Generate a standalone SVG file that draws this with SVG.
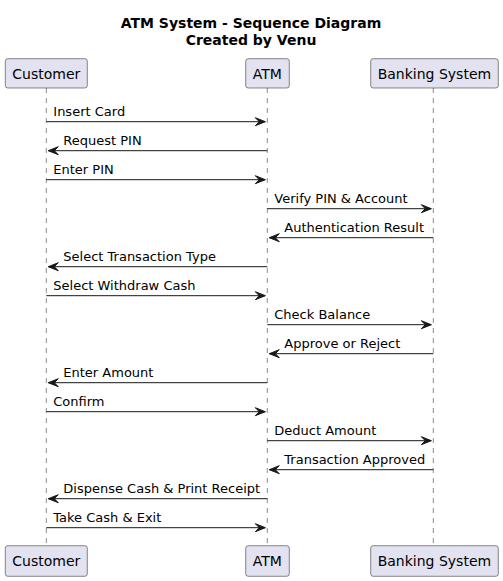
<svg xmlns="http://www.w3.org/2000/svg" width="503" height="581" viewBox="0 0 503 581">
<style>
.bg{fill:#FFFFFF}
.title{font-family:"DejaVu Sans",sans-serif;font-size:14px;font-weight:bold;fill:#000000;text-anchor:middle}
.pbox{fill:#E2E2F0;stroke:#181818;stroke-width:0.5}
.ptext{font-family:"DejaVu Sans",sans-serif;font-size:14px;fill:#000000}
.life{stroke:#181818;stroke-width:0.5;stroke-dasharray:5,5;fill:none}
.msg{stroke:#181818;stroke-width:1;fill:none}
.head{fill:#181818;stroke:#181818;stroke-width:1}
.mtext{font-family:"DejaVu Sans",sans-serif;font-size:13px;fill:#000000}
</style>
<rect class="bg" x="0" y="0" width="503" height="581"/>
<g id="title">
<text class="title" x="251" y="28">ATM System - Sequence Diagram</text>
<text class="title" x="251" y="44.5">Created by Venu</text>
</g>
<g id="lifelines">
<line class="life" x1="46.3" y1="88" x2="46.3" y2="545.7"/>
<line class="life" x1="267.3" y1="88" x2="267.3" y2="545.7"/>
<line class="life" x1="433.3" y1="88" x2="433.3" y2="545.7"/>
</g>
<g id="customer">
<rect class="pbox" x="5.3" y="58.7" width="82" height="29.3" rx="2.5"/>
<text class="ptext" x="12.3" y="79">Customer</text>
<rect class="pbox" x="5.3" y="545.7" width="82" height="30.6" rx="2.5"/>
<text class="ptext" x="12.3" y="566">Customer</text>
</g>
<g id="atm">
<rect class="pbox" x="245.7" y="58.7" width="43.6" height="29.3" rx="2.5"/>
<text class="ptext" x="252.7" y="79">ATM</text>
<rect class="pbox" x="245.7" y="545.7" width="43.6" height="30.6" rx="2.5"/>
<text class="ptext" x="252.7" y="566">ATM</text>
</g>
<g id="banking">
<rect class="pbox" x="370.7" y="58.7" width="127.6" height="29.3" rx="2.5"/>
<text class="ptext" x="377.7" y="79">Banking System</text>
<rect class="pbox" x="370.7" y="545.7" width="127.6" height="30.6" rx="2.5"/>
<text class="ptext" x="377.7" y="566">Banking System</text>
</g>
<g id="connectors">
<line class="msg" x1="46.3" y1="121.7" x2="265.3" y2="121.7"/>
<polygon class="head" points="255.3,117.7 265.3,121.7 255.3,125.7 259.3,121.7"/>
<text class="mtext" x="53.3" y="116">Insert Card</text>

<line class="msg" x1="48.3" y1="150.7" x2="267.3" y2="150.7"/>
<polygon class="head" points="58.3,146.7 48.3,150.7 58.3,154.7 54.3,150.7"/>
<text class="mtext" x="63.3" y="145">Request PIN</text>

<line class="msg" x1="46.3" y1="179.7" x2="265.3" y2="179.7"/>
<polygon class="head" points="255.3,175.7 265.3,179.7 255.3,183.7 259.3,179.7"/>
<text class="mtext" x="53.3" y="174">Enter PIN</text>

<line class="msg" x1="267.3" y1="208.7" x2="431.3" y2="208.7"/>
<polygon class="head" points="421.3,204.7 431.3,208.7 421.3,212.7 425.3,208.7"/>
<text class="mtext" x="274.3" y="203">Verify PIN &amp; Account</text>

<line class="msg" x1="269.3" y1="237.7" x2="433.3" y2="237.7"/>
<polygon class="head" points="279.3,233.7 269.3,237.7 279.3,241.7 275.3,237.7"/>
<text class="mtext" x="284.3" y="232">Authentication Result</text>

<line class="msg" x1="48.3" y1="266.7" x2="267.3" y2="266.7"/>
<polygon class="head" points="58.3,262.7 48.3,266.7 58.3,270.7 54.3,266.7"/>
<text class="mtext" x="63.3" y="261">Select Transaction Type</text>

<line class="msg" x1="46.3" y1="295.7" x2="265.3" y2="295.7"/>
<polygon class="head" points="255.3,291.7 265.3,295.7 255.3,299.7 259.3,295.7"/>
<text class="mtext" x="53.3" y="290">Select Withdraw Cash</text>

<line class="msg" x1="267.3" y1="324.7" x2="431.3" y2="324.7"/>
<polygon class="head" points="421.3,320.7 431.3,324.7 421.3,328.7 425.3,324.7"/>
<text class="mtext" x="274.3" y="319">Check Balance</text>

<line class="msg" x1="269.3" y1="353.7" x2="433.3" y2="353.7"/>
<polygon class="head" points="279.3,349.7 269.3,353.7 279.3,357.7 275.3,353.7"/>
<text class="mtext" x="284.3" y="348">Approve or Reject</text>

<line class="msg" x1="48.3" y1="382.7" x2="267.3" y2="382.7"/>
<polygon class="head" points="58.3,378.7 48.3,382.7 58.3,386.7 54.3,382.7"/>
<text class="mtext" x="63.3" y="377">Enter Amount</text>

<line class="msg" x1="46.3" y1="411.7" x2="265.3" y2="411.7"/>
<polygon class="head" points="255.3,407.7 265.3,411.7 255.3,415.7 259.3,411.7"/>
<text class="mtext" x="53.3" y="406">Confirm</text>

<line class="msg" x1="267.3" y1="440.7" x2="431.3" y2="440.7"/>
<polygon class="head" points="421.3,436.7 431.3,440.7 421.3,444.7 425.3,440.7"/>
<text class="mtext" x="274.3" y="435">Deduct Amount</text>

<line class="msg" x1="269.3" y1="469.7" x2="433.3" y2="469.7"/>
<polygon class="head" points="279.3,465.7 269.3,469.7 279.3,473.7 275.3,469.7"/>
<text class="mtext" x="284.3" y="464">Transaction Approved</text>

<line class="msg" x1="48.3" y1="498.7" x2="267.3" y2="498.7"/>
<polygon class="head" points="58.3,494.7 48.3,498.7 58.3,502.7 54.3,498.7"/>
<text class="mtext" x="63.3" y="493">Dispense Cash &amp; Print Receipt</text>

<line class="msg" x1="46.3" y1="527.7" x2="265.3" y2="527.7"/>
<polygon class="head" points="255.3,523.7 265.3,527.7 255.3,531.7 259.3,527.7"/>
<text class="mtext" x="53.3" y="522">Take Cash &amp; Exit</text>
</g>
</svg>
